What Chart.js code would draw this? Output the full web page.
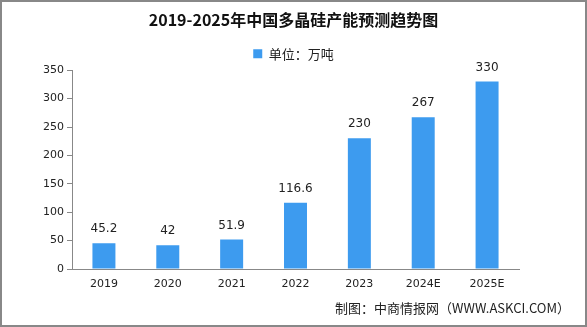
<!DOCTYPE html>
<html><head><meta charset="utf-8">
<script src="https://cdn.jsdelivr.net/npm/chart.js@4/dist/chart.umd.min.js"></script>
<style>html,body{margin:0;padding:0;background:#fff}#w{width:587px;height:327px;position:relative}</style>
</head><body><div id="w"><canvas id="c" width="587" height="327"></canvas></div>
<script>
const categories = ["2019","2020","2021","2022","2023","2024E","2025E"];
const capacity = [45.2, 42, 51.9, 116.6, 230, 267, 330];
const valueLabels = ["45.2","42","51.9","116.6","230","267","330"];
const yTicks = [0,50,100,150,200,250,300,350];
const seriesName = "单位：万吨";
const titleText = "2019-2025年中国多晶硅产能预测趋势图";
const sourceText = "制图：中商情报网（WWW.ASKCI.COM）";

const extras = {
  id: 'extras',
  afterDatasetsDraw(chart) {
    const ctx = chart.ctx;
    const meta = chart.getDatasetMeta(0);
    ctx.save();
    ctx.fillStyle = '#222';
    ctx.font = '12px "DejaVu Sans", sans-serif';
    ctx.textAlign = 'center';
    ctx.textBaseline = 'bottom';
    meta.data.forEach((b, i) => {
      ctx.fillText(valueLabels[i], b.x, b.y - 8);
    });
    ctx.font = '13px "Noto Sans CJK SC", sans-serif';
    ctx.textAlign = 'right';
    ctx.textBaseline = 'middle';
    ctx.fillText(sourceText, 570, 308);
    ctx.restore();
  },
  afterDraw(chart) {
    const ctx = chart.ctx;
    ctx.save();
    ctx.strokeStyle = '#888';
    ctx.lineWidth = 2;
    ctx.strokeRect(1, 1, chart.width - 2, chart.height - 2);
    ctx.restore();
  }
};

new Chart(document.getElementById('c'), {
  type: 'bar',
  data: {
    labels: categories,
    datasets: [{
      label: seriesName,
      data: capacity,
      backgroundColor: '#3d9bef',
      borderWidth: 0,
      categoryPercentage: 1,
      barPercentage: 0.36
    }]
  },
  options: {
    responsive: false,
    animation: false,
    layout: { padding: { left: 0, right: 0, top: 9, bottom: 0 } },
    plugins: {
      title: {
        display: true, text: titleText, color: '#111',
        font: { family: '"Noto Sans CJK SC", sans-serif', size: 16, weight: 'bold' },
        padding: { top: 1, bottom: 6 }
      },
      legend: {
        display: true,
        labels: {
          boxWidth: 9, boxHeight: 9, color: '#222',
          font: { family: '"Noto Sans CJK SC", sans-serif', size: 13 },
          padding: 12
        }
      },
      tooltip: { enabled: false }
    },
    scales: {
      x: {
        grid: { display: false, drawOnChartArea: false, drawTicks: true, tickLength: 5, color: '#888', offset: true },
        border: { color: '#888' },
        ticks: { color: '#222', font: { family: '"DejaVu Sans", sans-serif', size: 11 }, padding: 4 },
        afterFit(s) { s.height = 58; }
      },
      y: {
        min: 0, max: 350,
        afterBuildTicks(s) { s.ticks = yTicks.map(v => ({ value: v })); },
        grid: { drawOnChartArea: false, drawTicks: true, tickLength: 5, color: '#888' },
        border: { color: '#888' },
        ticks: { color: '#222', font: { family: '"DejaVu Sans", sans-serif', size: 11 }, padding: 3 },
        afterFit(s) { s.width = 72; }
      },
      yR: {
        position: 'right', min: 0, max: 350,
        grid: { display: false }, border: { display: false },
        ticks: { display: false },
        afterFit(s) { s.width = 68; }
      }
    }
  },
  plugins: [extras]
});
</script></body></html>
